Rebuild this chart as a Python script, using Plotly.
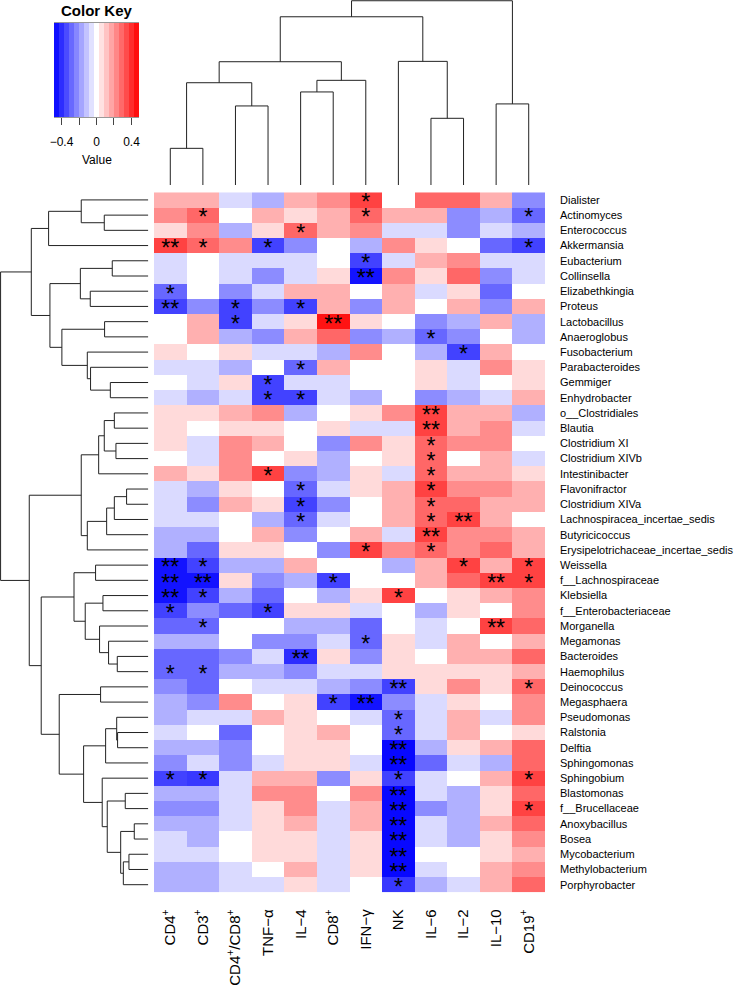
import plotly.graph_objects as go

# ---------------- data ----------------
columns = ["CD4<sup>+</sup>", "CD3<sup>+</sup>", "CD4<sup>+</sup>/CD8<sup>+</sup>", "TNF\u2212\u03b1",
           "IL\u22124", "CD8<sup>+</sup>", "IFN\u2212\u03b3", "NK", "IL\u22126", "IL\u22122",
           "IL\u221210", "CD19<sup>+</sup>"]

rows = ["Dialister", "Actinomyces", "Enterococcus", "Akkermansia", "Eubacterium", "Collinsella",
        "Elizabethkingia", "Proteus", "Lactobacillus", "Anaeroglobus", "Fusobacterium",
        "Parabacteroides", "Gemmiger", "Enhydrobacter", "o__Clostridiales", "Blautia",
        "Clostridium XI", "Clostridium XIVb", "Intestinibacter", "Flavonifractor",
        "Clostridium XIVa", "Lachnospiracea_incertae_sedis", "Butyricicoccus",
        "Erysipelotrichaceae_incertae_sedis", "Weissella", "f__Lachnospiraceae", "Klebsiella",
        "f__Enterobacteriaceae", "Morganella", "Megamonas", "Bacteroides", "Haemophilus",
        "Deinococcus", "Megasphaera", "Pseudomonas", "Ralstonia", "Delftia", "Sphingomonas",
        "Sphingobium", "Blastomonas", "f__Brucellaceae", "Anoxybacillus", "Bosea",
        "Mycobacterium", "Methylobacterium", "Porphyrobacter"]

values = [
    [0.15, 0.15, -0.07, -0.15, 0.15, 0.22, 0.36, 0.00, 0.29, 0.29, 0.15, -0.22],
    [0.22, 0.29, 0.00, 0.15, 0.07, 0.15, 0.29, 0.15, 0.15, -0.22, -0.15, -0.29],
    [0.07, 0.22, -0.15, 0.07, 0.29, 0.15, 0.22, -0.07, -0.07, -0.22, -0.07, -0.15],
    [0.36, 0.29, 0.22, -0.36, -0.22, 0.00, -0.15, 0.22, 0.07, 0.00, -0.29, -0.36],
    [-0.07, 0.00, -0.07, -0.07, -0.07, 0.00, -0.36, -0.07, 0.15, 0.22, -0.07, -0.07],
    [-0.07, 0.00, -0.07, -0.22, -0.07, 0.07, -0.45, 0.22, 0.07, 0.29, -0.22, -0.07],
    [-0.29, 0.00, -0.22, -0.07, 0.15, 0.15, 0.00, 0.15, -0.07, 0.07, -0.29, 0.00],
    [-0.36, -0.22, -0.36, -0.22, -0.36, 0.15, -0.22, 0.15, 0.00, 0.15, -0.22, 0.15],
    [0.00, 0.15, -0.36, -0.07, 0.07, 0.45, 0.07, 0.00, -0.22, -0.15, 0.15, -0.15],
    [0.00, 0.15, -0.15, -0.22, 0.15, 0.29, -0.22, -0.15, -0.29, -0.22, 0.00, -0.15],
    [0.07, 0.00, 0.07, -0.07, -0.07, -0.15, 0.22, 0.00, -0.15, -0.36, 0.15, 0.00],
    [-0.07, -0.07, -0.15, 0.00, -0.29, 0.15, 0.00, 0.00, 0.07, -0.07, 0.22, 0.07],
    [0.00, -0.07, 0.07, -0.36, -0.07, -0.07, 0.00, 0.00, 0.07, -0.07, 0.00, 0.07],
    [-0.07, -0.15, -0.07, -0.36, -0.36, -0.07, -0.15, 0.00, -0.22, -0.15, -0.07, 0.15],
    [0.07, 0.07, 0.15, 0.22, -0.15, 0.00, 0.07, 0.22, 0.36, 0.15, 0.15, -0.15],
    [0.07, 0.00, 0.07, 0.07, 0.00, 0.07, -0.07, -0.07, 0.36, 0.15, 0.22, -0.07],
    [0.07, -0.07, 0.22, 0.15, 0.00, -0.22, 0.22, 0.07, 0.29, 0.22, 0.22, 0.00],
    [0.00, -0.07, 0.22, 0.00, 0.07, -0.15, 0.00, 0.07, 0.29, 0.00, 0.15, -0.07],
    [0.15, 0.07, 0.22, 0.36, -0.22, -0.15, 0.07, -0.07, 0.29, 0.15, 0.15, 0.07],
    [-0.07, -0.15, 0.07, 0.00, -0.29, -0.07, 0.07, 0.15, 0.36, 0.22, 0.22, 0.15],
    [-0.07, -0.22, 0.15, 0.07, -0.36, -0.22, 0.00, 0.15, 0.29, 0.29, 0.15, 0.15],
    [-0.07, -0.07, 0.00, -0.15, -0.29, -0.07, 0.00, 0.15, 0.29, 0.36, 0.15, 0.00],
    [-0.15, -0.15, 0.00, 0.15, -0.22, 0.00, 0.15, -0.07, 0.36, 0.22, 0.22, 0.15],
    [-0.15, -0.29, 0.07, 0.07, 0.00, -0.22, 0.36, 0.22, 0.29, 0.22, 0.29, 0.15],
    [-0.45, -0.36, -0.15, -0.15, 0.15, 0.00, 0.00, -0.15, 0.15, 0.36, 0.15, 0.36],
    [-0.45, -0.45, 0.07, -0.22, -0.15, -0.36, 0.00, 0.00, 0.15, 0.29, 0.36, 0.36],
    [-0.45, -0.36, -0.15, -0.29, 0.00, -0.15, 0.07, 0.36, 0.00, 0.07, 0.15, 0.22],
    [-0.36, -0.22, -0.29, -0.36, 0.07, 0.07, -0.07, 0.00, -0.15, 0.07, 0.00, 0.22],
    [-0.29, -0.29, 0.00, 0.00, -0.15, -0.15, -0.29, 0.00, -0.07, 0.00, 0.36, 0.29],
    [-0.15, -0.15, 0.00, -0.22, -0.22, -0.07, -0.29, 0.07, -0.07, 0.15, 0.00, 0.15],
    [-0.29, -0.29, -0.22, -0.07, -0.40, 0.07, -0.22, 0.07, 0.00, 0.15, 0.15, 0.29],
    [-0.29, -0.29, -0.15, -0.15, -0.22, -0.07, -0.07, 0.07, 0.07, 0.07, 0.07, 0.15],
    [-0.22, -0.29, 0.00, -0.07, -0.07, -0.15, -0.22, -0.36, 0.07, 0.22, 0.07, 0.29],
    [-0.15, -0.22, 0.22, 0.00, 0.07, -0.36, -0.45, -0.22, -0.07, 0.07, 0.00, 0.22],
    [-0.15, -0.07, -0.07, 0.15, 0.07, 0.00, -0.07, -0.29, -0.07, 0.15, -0.07, 0.22],
    [-0.07, 0.00, -0.29, 0.00, 0.07, 0.15, 0.00, -0.29, -0.07, 0.15, 0.00, 0.07],
    [-0.15, -0.15, -0.22, 0.00, 0.07, 0.07, 0.00, -0.47, -0.15, 0.07, 0.15, 0.29],
    [-0.22, -0.07, -0.22, -0.07, 0.07, 0.07, -0.07, -0.47, -0.29, -0.07, -0.15, 0.29],
    [-0.36, -0.38, -0.07, 0.15, 0.15, -0.22, 0.07, -0.36, -0.07, 0.00, 0.15, 0.36],
    [-0.15, -0.15, -0.07, 0.22, 0.22, 0.00, 0.22, -0.47, -0.07, -0.15, 0.07, 0.29],
    [-0.22, -0.22, -0.07, 0.07, 0.22, -0.07, 0.15, -0.47, -0.22, -0.15, 0.07, 0.36],
    [-0.15, -0.15, -0.07, 0.07, 0.15, -0.07, 0.15, -0.47, -0.07, -0.15, 0.15, 0.29],
    [-0.07, -0.15, 0.00, 0.07, 0.07, -0.07, 0.07, -0.47, -0.07, -0.15, 0.07, 0.22],
    [-0.07, -0.07, 0.00, 0.07, 0.07, -0.07, 0.07, -0.47, 0.00, 0.00, 0.07, 0.15],
    [-0.15, -0.15, -0.07, 0.00, 0.15, -0.07, 0.07, -0.47, -0.07, 0.00, 0.15, 0.22],
    [-0.15, -0.15, -0.07, -0.07, 0.07, -0.07, 0.00, -0.38, -0.15, -0.07, 0.15, 0.29],
]

# significance marks: (row, column, mark)
stars = [
    (0, 6, "*"),
    (1, 1, "*"), (1, 6, "*"), (1, 11, "*"),
    (2, 4, "*"),
    (3, 0, "**"), (3, 1, "*"), (3, 3, "*"), (3, 11, "*"),
    (4, 6, "*"),
    (5, 6, "**"),
    (6, 0, "*"),
    (7, 0, "**"), (7, 2, "*"), (7, 4, "*"),
    (8, 2, "*"), (8, 5, "**"),
    (9, 8, "*"),
    (10, 9, "*"),
    (11, 4, "*"),
    (12, 3, "*"),
    (13, 3, "*"), (13, 4, "*"),
    (14, 8, "**"),
    (15, 8, "**"),
    (16, 8, "*"),
    (17, 8, "*"),
    (18, 3, "*"), (18, 8, "*"),
    (19, 4, "*"), (19, 8, "*"),
    (20, 4, "*"), (20, 8, "*"),
    (21, 4, "*"), (21, 8, "*"), (21, 9, "**"),
    (22, 8, "**"),
    (23, 6, "*"), (23, 8, "*"),
    (24, 0, "**"), (24, 1, "*"), (24, 9, "*"), (24, 11, "*"),
    (25, 0, "**"), (25, 1, "**"), (25, 5, "*"), (25, 10, "**"), (25, 11, "*"),
    (26, 0, "**"), (26, 1, "*"), (26, 7, "*"),
    (27, 0, "*"), (27, 3, "*"),
    (28, 1, "*"), (28, 10, "**"),
    (29, 6, "*"),
    (30, 4, "**"),
    (31, 0, "*"), (31, 1, "*"),
    (32, 7, "**"), (32, 11, "*"),
    (33, 5, "*"), (33, 6, "**"),
    (34, 7, "*"),
    (35, 7, "*"),
    (36, 7, "**"),
    (37, 7, "**"),
    (38, 0, "*"), (38, 1, "*"), (38, 7, "*"), (38, 11, "*"),
    (39, 7, "**"),
    (40, 7, "**"), (40, 11, "*"),
    (41, 7, "**"),
    (42, 7, "**"),
    (43, 7, "**"),
    (44, 7, "**"),
    (45, 7, "*"),
]

# dendrograms: [left, right, merge height]; leaves are display-order indices
col_tree = [[[[[0, 1, 0.199], [2, 3, 0.429], 0.555], [[4, 5, 0.505], 6, 0.568], 0.669],
             [7, [8, 9, 0.362], 0.671], 0.913],
            [10, 11, 0.44], 1.0]

row_top = [[[0, [1, 2, 0.298], 0.454], 3, 0.675],
           [[[4, 5, 0.244], [6, 7, 0.393], 0.460],
            [[8, 9, 0.296], [10, [11, [12, 13, 0.257], 0.391], 0.413], 0.585], 0.666],
           0.792]
row_clost = [[[[14, 15, 0.230], [16, 17, 0.219], 0.298], 18, 0.336],
             [[[[19, 20, 0.147], 21, 0.230], 22, 0.282], 23, 0.413], 0.454]
row_g4a = [[24, 25, 0.357], [[26, 27, 0.307], [28, [29, [30, 31, 0.210], 0.269], 0.330], 0.427], 0.503]
row_g4b = [[32, 33, 0.323],
           [[[34, [35, 36, 0.208], 0.214], 37, 0.289],
            [38, [[39, 40, 0.156], [[41, 42, 0.095], [[43, 44, 0.131], 45, 0.169], 0.187], 0.278], 0.312],
            0.438], 0.603]
row_tree = [row_top, [row_clost, [row_g4a, row_g4b, 0.725], 0.806], 1.0]

key_labels = [-0.4, 0.0, 0.4]
key_ticktext = ["\u22120.4", "0", "0.4"]
key_minor = [-0.2, 0.2]

# ---------------- layout helpers ----------------
W, H = 736, 986
ZLIM = 0.486
FONT = "Liberation Sans, Arial, sans-serif"
colorscale = [[0.0, "#0000FF"], [0.5, "#FFFFFF"], [1.0, "#FF0000"]]


def fx(p):
    return p / W


def fy(p):
    return 1 - p / H


HM_L, HM_R, HM_T, HM_B = 154, 545, 192.3, 892.3


def dendro(node, segs):
    if isinstance(node, int):
        return float(node), 0.0
    left, right, h = node
    pl, hl = dendro(left, segs)
    pr, hr = dendro(right, segs)
    segs.append([(pl, hl), (pl, h), (pr, h), (pr, hr)])
    return (pl + pr) / 2, h


fig = go.Figure()

# heatmap
fig.add_trace(go.Heatmap(
    z=values, x=list(range(len(columns))), y=list(range(len(rows))),
    colorscale=colorscale, zmin=-ZLIM, zmax=ZLIM, showscale=False,
    xaxis="x", yaxis="y", hoverinfo="skip"))

# stars
fig.add_trace(go.Scatter(
    x=[c for r, c, s in stars], y=[r + 0.3 for r, c, s in stars],
    text=[s for r, c, s in stars], mode="text",
    textfont=dict(size=23, color="black", family=FONT),
    xaxis="x", yaxis="y", showlegend=False, hoverinfo="skip"))

# column dendrogram
segs = []
dendro(col_tree, segs)
xs, ys = [], []
for s in segs:
    for p in s:
        xs.append(p[0]); ys.append(p[1])
    xs.append(None); ys.append(None)
fig.add_trace(go.Scatter(x=xs, y=ys, mode="lines", line=dict(color="#222222", width=1),
                         xaxis="x2", yaxis="y2", showlegend=False, hoverinfo="skip"))

# row dendrogram
segs = []
dendro(row_tree, segs)
xs, ys = [], []
for s in segs:
    for p in s:
        xs.append(p[1]); ys.append(p[0])
    xs.append(None); ys.append(None)
fig.add_trace(go.Scatter(x=xs, y=ys, mode="lines", line=dict(color="#222222", width=1),
                         xaxis="x3", yaxis="y3", showlegend=False, hoverinfo="skip"))

# colour key
nb = 17
bw = 2 * ZLIM / nb
centers = [-ZLIM + bw * (i + 0.5) for i in range(nb)]
fig.add_trace(go.Heatmap(z=[centers], x=centers, y=[0], colorscale=colorscale,
                         zmin=-ZLIM, zmax=ZLIM, showscale=False,
                         xaxis="x4", yaxis="y4", hoverinfo="skip"))

fig.update_layout(
    width=W, height=H, margin=dict(l=0, r=0, t=0, b=0, autoexpand=False),
    paper_bgcolor="white", plot_bgcolor="white",
    font=dict(family=FONT, color="black"),
    showlegend=False,
    xaxis=dict(domain=[fx(HM_L), fx(HM_R)], range=[-0.5, len(columns) - 0.5],
               tickvals=list(range(len(columns))), ticktext=columns, tickangle=-90,
               ticks="", showgrid=False, zeroline=False, showline=False, automargin=False,
               tickfont=dict(size=15), ticklabelstandoff=13, anchor="y"),
    yaxis=dict(domain=[fy(HM_B), fy(HM_T)], range=[len(rows) - 0.5, -0.5],
               tickvals=list(range(len(rows))), ticktext=rows, side="right",
               ticks="", showgrid=False, zeroline=False, showline=False, automargin=False,
               tickfont=dict(size=11), ticklabelstandoff=14, anchor="x"),
    xaxis2=dict(domain=[fx(HM_L), fx(HM_R)], range=[-0.5, len(columns) - 0.5],
                visible=False, anchor="y2", automargin=False),
    yaxis2=dict(domain=[fy(185), fy(0)], range=[0, 1.004], visible=False, anchor="x2",
                automargin=False),
    xaxis3=dict(domain=[fx(0), fx(148.3)], range=[1.004, 0], visible=False, anchor="y3",
                automargin=False),
    yaxis3=dict(domain=[fy(HM_B), fy(HM_T)], range=[len(rows) - 0.5, -0.5],
                visible=False, anchor="x3", automargin=False),
    xaxis4=dict(domain=[fx(54), fx(139)], range=[-ZLIM, ZLIM], tickvals=key_labels,
                ticktext=key_ticktext, ticks="outside", ticklen=7, tickcolor="#444444",
                minor=dict(tickvals=key_minor, ticks="outside", ticklen=7, tickcolor="#444444"),
                showline=True, mirror=True, linecolor="#999999", linewidth=1,
                showgrid=False, zeroline=False, tickfont=dict(size=12), ticklabelstandoff=7,
                anchor="y4", automargin=False),
    yaxis4=dict(domain=[fy(117), fy(23)], range=[-0.5, 0.5], visible=False, anchor="x4",
                automargin=False),
    annotations=[
        dict(text="<b>Color Key</b>", x=fx(97), y=fy(10), xref="paper", yref="paper",
             showarrow=False, font=dict(size=15), xanchor="center", yanchor="middle"),
        dict(text="Value", x=fx(97), y=fy(160), xref="paper", yref="paper",
             showarrow=False, font=dict(size=12), xanchor="center", yanchor="middle"),
    ],
)

fig.write_html("out.html", config={"displayModeBar": False, "staticPlot": True},
               post_script="document.body.style.margin='0';document.body.style.padding='0';")
